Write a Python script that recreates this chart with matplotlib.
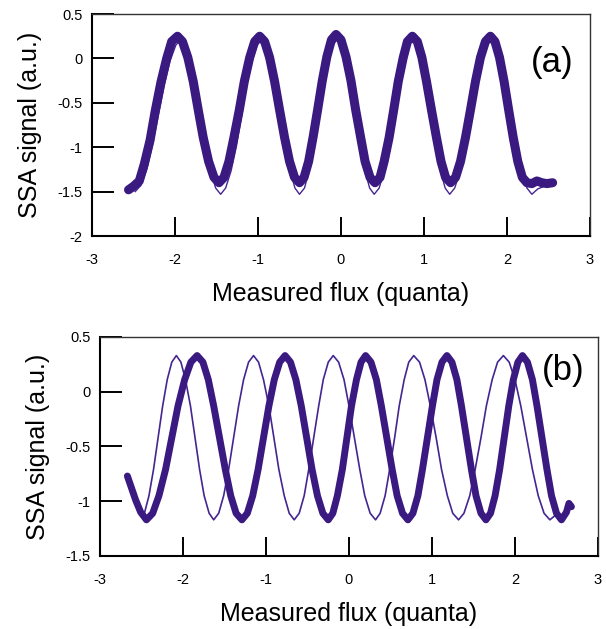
import matplotlib
matplotlib.use("Agg")
import matplotlib.pyplot as plt

plt.rcParams['font.family'] = ['Liberation Sans', 'DejaVu Sans']

# --- panel (a): flux sweeps, thick band + one thin sweep ---
a_thick_x = [-2.56, -2.50,
             -2.43, -2.37, -2.30, -2.24, -2.17, -2.10, -2.04, -1.97,
             -1.91, -1.845, -1.78, -1.72, -1.66, -1.595, -1.53, -1.47,
             -1.41, -1.35, -1.29, -1.225, -1.165, -1.10, -1.04, -0.98,
             -0.92, -0.86, -0.80, -0.74, -0.68, -0.62, -0.56, -0.50,
             -0.445, -0.39, -0.335, -0.28, -0.225, -0.17, -0.115, -0.06,
             0.00, 0.06, 0.12, 0.175, 0.235, 0.29, 0.35, 0.41,
             0.47, 0.52, 0.58, 0.635, 0.69, 0.75, 0.80, 0.86,
             0.92, 0.975, 1.03, 1.09, 1.15, 1.205, 1.26, 1.32,
             1.38, 1.44, 1.50, 1.56, 1.62, 1.68, 1.74, 1.80,
             1.855, 1.91, 1.965, 2.02, 2.075, 2.13, 2.185, 2.24,
             2.30, 2.36, 2.42, 2.48, 2.55]
a_thick_y = [-1.48, -1.44,
             -1.38, -1.19, -0.92, -0.60, -0.27, 0.00, 0.19, 0.25,
             0.19, 0.01, -0.26, -0.58, -0.89, -1.16, -1.34, -1.40,
             -1.34, -1.16, -0.89, -0.58, -0.26, 0.01, 0.19, 0.25,
             0.19, 0.01, -0.26, -0.58, -0.89, -1.16, -1.34, -1.40,
             -1.34, -1.16, -0.88, -0.57, -0.25, 0.02, 0.21, 0.27,
             0.21, 0.02, -0.25, -0.57, -0.88, -1.16, -1.34, -1.40,
             -1.34, -1.16, -0.89, -0.58, -0.26, 0.01, 0.19, 0.25,
             0.19, 0.01, -0.26, -0.58, -0.89, -1.16, -1.34, -1.40,
             -1.34, -1.16, -0.89, -0.58, -0.26, 0.01, 0.19, 0.25,
             0.19, 0.01, -0.26, -0.58, -0.89, -1.16, -1.34, -1.40,
             -1.41, -1.38, -1.40, -1.41, -1.40]

a_thin_x = [-2.48,
            -2.41, -2.34, -2.27, -2.20, -2.13, -2.06, -1.99, -1.92,
            -1.86, -1.80, -1.74, -1.685, -1.63, -1.57, -1.51, -1.45,
            -1.39, -1.325, -1.26, -1.20, -1.14, -1.075, -1.01, -0.95,
            -0.895, -0.84, -0.78, -0.725, -0.67, -0.61, -0.555, -0.50,
            -0.44, -0.385, -0.33, -0.27, -0.21, -0.155, -0.10, -0.04,
            0.015, 0.07, 0.125, 0.18, 0.235, 0.29, 0.345, 0.40,
            0.46, 0.52, 0.575, 0.635, 0.69, 0.75, 0.81, 0.87,
            0.925, 0.98, 1.035, 1.09, 1.145, 1.20, 1.255, 1.31,
            1.37, 1.435, 1.50, 1.56, 1.62, 1.685, 1.75, 1.81,
            1.87, 1.93, 1.995, 2.055, 2.115, 2.18, 2.24, 2.30,
            2.37, 2.45]
a_thin_y = [-1.50,
            -1.43, -1.25, -0.97, -0.64, -0.31, -0.03, 0.15, 0.22,
            0.15, -0.04, -0.32, -0.66, -0.99, -1.27, -1.46, -1.53,
            -1.46, -1.27, -0.99, -0.66, -0.32, -0.04, 0.15, 0.22,
            0.15, -0.04, -0.32, -0.66, -0.99, -1.27, -1.46, -1.53,
            -1.46, -1.27, -0.99, -0.66, -0.32, -0.04, 0.15, 0.22,
            0.15, -0.04, -0.32, -0.66, -0.99, -1.27, -1.46, -1.53,
            -1.46, -1.27, -0.99, -0.66, -0.32, -0.04, 0.15, 0.22,
            0.15, -0.04, -0.32, -0.66, -0.99, -1.27, -1.46, -1.53,
            -1.46, -1.27, -0.99, -0.66, -0.32, -0.04, 0.15, 0.22,
            0.15, -0.04, -0.32, -0.66, -0.99, -1.27, -1.46, -1.53,
            -1.47, -1.44]

# --- panel (b): two sweeps shifted in phase ---
b_thick_x = [-2.67, -2.62, -2.57, -2.51, -2.44,
             -2.365, -2.29, -2.21, -2.135, -2.06, -1.98, -1.905, -1.83,
             -1.76, -1.695, -1.63, -1.56, -1.49, -1.425, -1.36, -1.29,
             -1.225, -1.16, -1.095, -1.03, -0.965, -0.90, -0.835, -0.77,
             -0.705, -0.64, -0.575, -0.51, -0.445, -0.38, -0.315, -0.25,
             -0.195, -0.14, -0.08, -0.025, 0.03, 0.09, 0.145, 0.20,
             0.265, 0.33, 0.39, 0.455, 0.52, 0.58, 0.645, 0.71,
             0.77, 0.83, 0.885, 0.945, 1.005, 1.06, 1.12, 1.18,
             1.24, 1.30, 1.355, 1.415, 1.475, 1.53, 1.59, 1.65,
             1.705, 1.76, 1.815, 1.87, 1.925, 1.98, 2.035, 2.09,
             2.15, 2.21, 2.265, 2.325, 2.385, 2.44, 2.50, 2.56,
             2.62, 2.65, 2.68]
b_thick_y = [-0.77, -0.88, -0.99, -1.10, -1.17,
             -1.11, -0.95, -0.71, -0.42, -0.13, 0.11, 0.27, 0.33,
             0.27, 0.11, -0.13, -0.42, -0.71, -0.95, -1.11, -1.17,
             -1.11, -0.95, -0.71, -0.42, -0.13, 0.11, 0.27, 0.33,
             0.27, 0.11, -0.13, -0.42, -0.71, -0.95, -1.11, -1.17,
             -1.11, -0.95, -0.71, -0.42, -0.13, 0.11, 0.27, 0.33,
             0.27, 0.11, -0.13, -0.42, -0.71, -0.95, -1.11, -1.17,
             -1.11, -0.95, -0.71, -0.42, -0.13, 0.11, 0.27, 0.33,
             0.27, 0.11, -0.13, -0.42, -0.71, -0.95, -1.11, -1.17,
             -1.11, -0.95, -0.71, -0.42, -0.13, 0.11, 0.27, 0.33,
             0.27, 0.11, -0.13, -0.42, -0.71, -0.95, -1.11, -1.17,
             -1.10, -1.02, -1.05]

b_thin_x = [-2.465, -2.41, -2.355, -2.30, -2.245, -2.19, -2.135, -2.08,
            -2.025, -1.97, -1.91, -1.855, -1.80, -1.745, -1.685, -1.63,
            -1.57, -1.51, -1.45, -1.39, -1.33, -1.27, -1.21, -1.15,
            -1.09, -1.03, -0.965, -0.905, -0.845, -0.78, -0.72, -0.66,
            -0.60, -0.54, -0.485, -0.425, -0.365, -0.31, -0.25, -0.19,
            -0.125, -0.06, 0.00, 0.065, 0.13, 0.19, 0.255, 0.32,
            0.375, 0.435, 0.49, 0.55, 0.605, 0.665, 0.72, 0.78,
            0.85, 0.915, 0.98, 1.05, 1.115, 1.185, 1.25, 1.32,
            1.385, 1.455, 1.52, 1.59, 1.655, 1.725, 1.79, 1.86,
            1.93, 2.00, 2.07, 2.14, 2.21, 2.28, 2.35, 2.42,
            2.50]
b_thin_y = [-1.11, -0.95, -0.71, -0.42, -0.13, 0.11, 0.27, 0.33,
            0.27, 0.11, -0.13, -0.42, -0.71, -0.95, -1.11, -1.17,
            -1.11, -0.95, -0.71, -0.42, -0.13, 0.11, 0.27, 0.33,
            0.27, 0.11, -0.13, -0.42, -0.71, -0.95, -1.11, -1.17,
            -1.11, -0.95, -0.71, -0.42, -0.13, 0.11, 0.27, 0.33,
            0.27, 0.11, -0.13, -0.42, -0.71, -0.95, -1.11, -1.17,
            -1.11, -0.95, -0.71, -0.42, -0.13, 0.11, 0.27, 0.33,
            0.27, 0.11, -0.13, -0.42, -0.71, -0.95, -1.11, -1.17,
            -1.11, -0.95, -0.71, -0.42, -0.13, 0.11, 0.27, 0.33,
            0.27, 0.11, -0.13, -0.42, -0.71, -0.95, -1.11, -1.17,
            -1.12]

x_ticks = [-3, -2, -1, 0, 1, 2, 3]
x_labels = ['-3', '-2', '-1', '0', '1', '2', '3']
a_y_ticks = [-2, -1.5, -1, -0.5, 0, 0.5]
a_y_labels = ['-2', '-1.5', '-1', '-0.5', '0', '0.5']
b_y_ticks = [-1.5, -1, -0.5, 0, 0.5]
b_y_labels = ['-1.5', '-1', '-0.5', '0', '0.5']

purple = '#3a1a80'

fig = plt.figure(figsize=(6.06, 6.29), dpi=100)
ax_a = fig.add_axes([0.1518, 0.6248, 0.8218, 0.3529])
ax_b = fig.add_axes([0.1650, 0.1161, 0.8218, 0.3482])


def style_axes(ax, yticks, ylabels, ylim):
    ax.set_xlim(-3, 3)
    ax.set_ylim(*ylim)
    ax.set_xticks(x_ticks)
    ax.set_xticklabels(x_labels)
    ax.set_yticks(yticks)
    ax.set_yticklabels(ylabels)
    ax.tick_params(axis='x', direction='in', length=14, width=1.4,
                   pad=12, labelsize=10.5)
    ax.tick_params(axis='y', direction='in', length=16, width=1.4,
                   pad=7, labelsize=10.5)
    for side in ['left', 'bottom']:
        ax.spines[side].set_linewidth(1.5)
    for side in ['top', 'right']:
        ax.spines[side].set_linewidth(1.0)
        ax.spines[side].set_color('#333333')
    ax.set_xlabel('Measured flux (quanta)', fontsize=18, labelpad=11)
    ax.set_ylabel('SSA signal (a.u.)', fontsize=18, labelpad=11)


ax_a.plot(a_thin_x, a_thin_y, color='#452590', lw=1.0, solid_joinstyle='round')
ax_a.plot(a_thick_x, a_thick_y, color=purple, lw=6.5,
          solid_joinstyle='round', solid_capstyle='round')
style_axes(ax_a, a_y_ticks, a_y_labels, (-2, 0.5))
ax_a.text(2.54, -0.05, '(a)', fontsize=25, ha='center', va='center')

ax_b.plot(b_thin_x, b_thin_y, color='#452590', lw=1.2, solid_joinstyle='round')
ax_b.plot(b_thick_x, b_thick_y, color=purple, lw=5.0,
          solid_joinstyle='round', solid_capstyle='round')
style_axes(ax_b, b_y_ticks, b_y_labels, (-1.5, 0.5))
ax_b.text(2.58, 0.19, '(b)', fontsize=25, ha='center', va='center')

fig.savefig('out.png', dpi=100)
